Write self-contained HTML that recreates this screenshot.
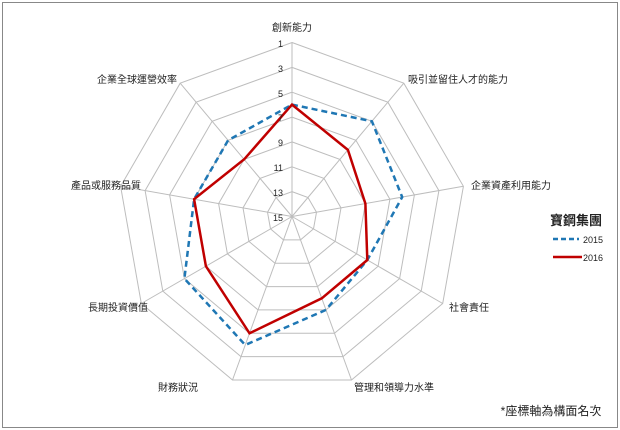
<!DOCTYPE html>
<html><head><meta charset="utf-8"><style>
html,body{margin:0;padding:0;background:#fff}
svg{display:block}
text{font-family:"Liberation Sans","Noto Sans CJK TC",sans-serif;fill:#222}
</style></head><body>
<svg id="s" width="620" height="430" viewBox="0 0 620 430" xmlns="http://www.w3.org/2000/svg">
<rect x="2.5" y="2.5" width="615" height="425" fill="#fff" stroke="#888" stroke-width="1"/>
<g id="grid" fill="none" stroke="#bdbdbd" stroke-width="1"></g>
<g id="ser"></g>
<g font-size="9" text-anchor="end">
<text x="283" y="47">1</text><text x="283" y="72">3</text><text x="283" y="97">5</text><text x="283" y="121">7</text>
<text x="283" y="146">9</text><text x="283" y="171">11</text><text x="283" y="196">13</text><text x="283" y="221">15</text>
</g>
<g font-size="10">
<text x="292" y="31" text-anchor="middle">創新能力</text>
<text x="408" y="83">吸引並留住人才的能力</text>
<text x="471" y="189">企業資產利用能力</text>
<text x="449" y="311">社會責任</text>
<text x="354" y="391">管理和領導力水準</text>
<text x="198" y="391" text-anchor="end">財務狀況</text>
<text x="148" y="311" text-anchor="end">長期投資價值</text>
<text x="141" y="189" text-anchor="end">產品或服務品質</text>
<text x="177" y="83" text-anchor="end">企業全球運營效率</text>
</g>
<text x="576" y="225" font-size="13" font-weight="bold" text-anchor="middle">寶鋼集團</text>
<line x1="553" y1="239" x2="579" y2="239" stroke="#1f77b4" stroke-width="2.5" stroke-dasharray="5,3"/>
<text x="583" y="243" font-size="9">2015</text>
<line x1="553" y1="257" x2="582" y2="257" stroke="#c00000" stroke-width="2.5"/>
<text x="583" y="261" font-size="9">2016</text>
<text x="551" y="415" font-size="12" text-anchor="middle">*座標軸為構面名次</text>
</svg>
<script>
var cx=292,cy=216.5,R=174,NS="http://www.w3.org/2000/svg";
function pt(i,rank){var a=(i*40-90)*Math.PI/180,r=(15-rank)/14*R;return (cx+r*Math.cos(a)).toFixed(1)+","+(cy+r*Math.sin(a)).toFixed(1);}
var g=document.getElementById("grid");
for(var k=1;k<=13;k+=2){var p=document.createElementNS(NS,"polygon");var a=[];for(var i=0;i<9;i++)a.push(pt(i,k));p.setAttribute("points",a.join(" "));g.appendChild(p);}
for(var i=0;i<9;i++){var l=document.createElementNS(NS,"polyline");l.setAttribute("points",pt(i,15)+" "+pt(i,1));g.appendChild(l);}
var b=[6,5,6,8,7,4,5,7,7],r=[6,8,9,8,8,5,7,7,9];
var s=document.getElementById("ser");
function poly(v,c,d){var p=document.createElementNS(NS,"polygon");var a=[];for(var i=0;i<9;i++)a.push(pt(i,v[i]));p.setAttribute("points",a.join(" "));p.setAttribute("fill","none");p.setAttribute("stroke",c);p.setAttribute("stroke-width","2.5");if(d)p.setAttribute("stroke-dasharray",d);s.appendChild(p);}
poly(b,"#1f77b4","6,4");poly(r,"#c00000");
</script>
</body></html>
